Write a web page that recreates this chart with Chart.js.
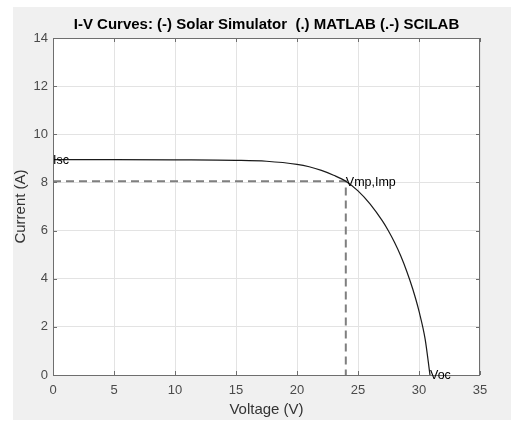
<!DOCTYPE html>
<html>
<head>
<meta charset="utf-8">
<script src="https://cdn.jsdelivr.net/npm/chart.js@4"></script>
<style>
  html, body { margin: 0; padding: 0; background: #fff; }
  #frame { position: absolute; left: 13px; top: 7px; width: 498px; height: 413px; background: #f0f0f0; }
  #wrap { position: absolute; left: 0; top: 0; width: 511px; height: 422px; }
</style>
</head>
<body>
<div id="frame"></div>
<div id="wrap"><canvas id="myChart" width="511" height="422"></canvas></div>
<script>
// I-V curve
const voltage = [0, 5, 10, 15, 17.5, 20, 21, 22, 23, 24, 25, 26, 27, 27.5, 28, 28.5, 29, 29.5, 30, 30.5, 30.9];
const current = [8.95, 8.95, 8.94, 8.92, 8.88, 8.75, 8.65, 8.5, 8.3, 8.05, 7.65, 7.1, 6.4, 5.98, 5.5, 4.95, 4.3, 3.55, 2.65, 1.5, 0];

// key points
const isc = 8.95;
const voc = 30.9;
const vmp = 24;
const imp = 8.05;

const xTicks = [0, 5, 10, 15, 20, 25, 30, 35];
const yTicks = [0, 2, 4, 6, 8, 10, 12, 14];

const curve = voltage.map((v, i) => ({ x: v, y: current[i] }));
const mppLines = [
  { x: 0, y: imp },
  { x: vmp, y: imp },
  { x: vmp, y: 0 },
];

const labels = [
  { text: "Isc", x: 0, y: isc },
  { text: "Vmp,Imp", x: vmp, y: imp },
  { text: "Voc", x: voc, y: 0 },
];

const axesBox = {
  id: "axesBox",
  beforeDraw(chart) {
    const { ctx, chartArea: a } = chart;
    ctx.save();
    ctx.fillStyle = "#ffffff";
    ctx.fillRect(a.left, a.top, a.right - a.left, a.bottom - a.top);
    ctx.restore();
  },
  afterDraw(chart) {
    const { ctx, chartArea: a, scales } = chart;
    ctx.save();
    ctx.strokeStyle = "#6e6e6e";
    ctx.lineWidth = 1;
    ctx.strokeRect(a.left + 0.5, a.top + 0.5, a.right - a.left - 1, a.bottom - a.top);
    // inward ticks, matlab style
    ctx.beginPath();
    xTicks.forEach((t) => {
      const px = Math.round(scales.x.getPixelForValue(t)) + 0.5;
      ctx.moveTo(px, a.bottom);
      ctx.lineTo(px, a.bottom - 4);
      ctx.moveTo(px, a.top);
      ctx.lineTo(px, a.top + 4);
    });
    yTicks.forEach((t) => {
      const py = Math.round(scales.y.getPixelForValue(t)) + 0.5;
      ctx.moveTo(a.left, py);
      ctx.lineTo(a.left + 4, py);
      ctx.moveTo(a.right, py);
      ctx.lineTo(a.right - 4, py);
    });
    ctx.stroke();

    ctx.fillStyle = "#000";
    ctx.font = "12.5px 'Liberation Sans', Arial, sans-serif";
    ctx.textAlign = "left";
    ctx.textBaseline = "middle";
    labels.forEach((l) => {
      ctx.fillText(l.text, scales.x.getPixelForValue(l.x), scales.y.getPixelForValue(l.y) + 1);
    });
    ctx.restore();
  },
};

const ctx = document.getElementById("myChart").getContext("2d");
Chart.defaults.font.family = "'Liberation Sans', Arial, sans-serif";

window.myChart = new Chart(ctx, {
  type: "scatter",
  data: {
    datasets: [
      {
        label: "curve",
        data: curve,
        showLine: true,
        borderColor: "#1a1a1a",
        borderWidth: 1.2,
        pointRadius: 0,
        cubicInterpolationMode: "monotone",
      },
      {
        label: "mpp",
        data: mppLines,
        showLine: true,
        borderColor: "#7f7f7f",
        borderWidth: 2,
        borderDash: [8, 5],
        pointRadius: 0,
      },
    ],
  },
  options: {
    responsive: false,
    animation: false,
    layout: { padding: { top: 0, left: 0, right: 31, bottom: 0 } },
    plugins: {
      legend: { display: false },
      tooltip: { enabled: false },
      title: {
        display: true,
        fullSize: false,
        text: "I-V Curves: (-) Solar Simulator  (.) MATLAB (.-) SCILAB",
        color: "#000",
        font: { size: 15, weight: "bold" },
        padding: { top: 16, bottom: 4 },
      },
    },
    scales: {
      x: {
        type: "linear",
        min: 0,
        max: 35,
        afterBuildTicks: (s) => { s.ticks = xTicks.map((v) => ({ value: v })); },
        afterFit: (s) => { s.height = 47; },
        grid: { color: "#e3e3e3", drawTicks: false },
        border: { display: false },
        ticks: { color: "#4a4a4a", font: { size: 13 }, padding: 8, maxRotation: 0 },
        title: {
          display: true,
          text: "Voltage (V)",
          color: "#333",
          font: { size: 15 },
          padding: { top: 0, bottom: 3 },
        },
      },
      y: {
        min: 0,
        max: 14,
        afterBuildTicks: (s) => { s.ticks = yTicks.map((v) => ({ value: v })); },
        afterFit: (s) => { s.width = 53; },
        grid: { color: "#e3e3e3", drawTicks: false },
        border: { display: false },
        ticks: { color: "#4a4a4a", font: { size: 13 }, padding: 5 },
        title: {
          display: true,
          text: "Current (A)",
          color: "#333",
          font: { size: 15 },
          padding: { top: 12, bottom: 0 },
        },
      },
    },
  },
  plugins: [axesBox],
});
</script>
</body>
</html>
